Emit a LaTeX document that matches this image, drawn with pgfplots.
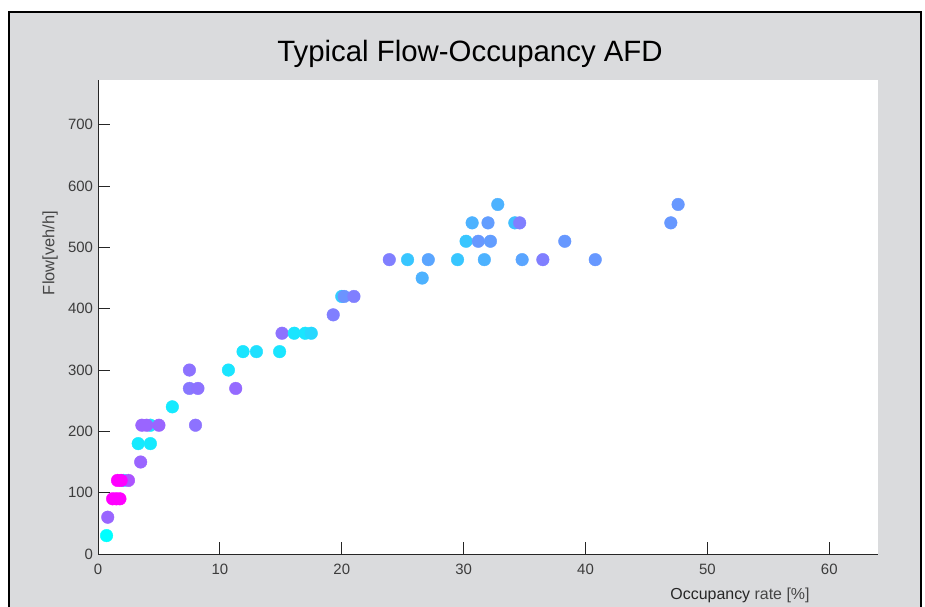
\documentclass[border=0pt]{standalone}
\usepackage{fontspec}
\setmainfont{Liberation Sans}
\usepackage{pgfplots}
\usepackage{pgfplotstable}
\pgfplotsset{compat=1.18}
\definecolor{bg}{RGB}{218,219,221}
\definecolor{axc}{RGB}{38,38,38}
\definecolor{tickc}{RGB}{60,60,60}
\definecolor{labc}{RGB}{70,70,70}
\pgfplotstableread{
x y c
0.7 30 0.0
0.8 60 0.6
2.1 120 0.05
2.5 120 0.67
1.6 120 1
1.9 120 1
1.2 90 1
1.5 90 1
1.8 90 1
3.5 150 0.6
3.3 180 0.08
4.3 180 0.08
4.3 210 0.08
3.6 210 0.6
4.0 210 0.6
5.0 210 0.6
8.0 210 0.55
6.1 240 0.08
7.5 270 0.53
8.2 270 0.55
11.3 270 0.58
7.5 300 0.55
10.7 300 0.1
11.9 330 0.1
13.0 330 0.12
14.9 330 0.1
15.1 360 0.55
16.1 360 0.1
17.0 360 0.1
17.5 360 0.15
19.3 390 0.5
20.0 420 0.2
20.2 420 0.42
21.0 420 0.5
26.6 450 0.3
23.9 480 0.5
25.4 480 0.22
27.1 480 0.35
29.5 480 0.22
31.7 480 0.3
34.8 480 0.35
36.5 480 0.5
40.8 480 0.4
30.2 510 0.22
31.2 510 0.4
32.2 510 0.38
38.3 510 0.4
30.7 540 0.3
32.0 540 0.38
34.2 540 0.25
34.6 540 0.5
47.0 540 0.4
32.8 570 0.3
47.6 570 0.4
}\datatab
\begin{document}
\begin{tikzpicture}[x=1bp,y=1bp]
\path[use as bounding box, clip] (0,0) rectangle (925,607);
\fill[white] (0,0) rectangle (925,607);
\draw[line width=1.5bp, fill=bg] (9,-10) rectangle (921,595);
\node[font=\fontsize{29.5}{34}\selectfont, text=black] at (470,553) {Typical Flow-Occupancy AFD};
\node[font=\fontsize{16.5}{19}\selectfont, text=labc, rotate=90] at (50,354) {Flow[veh/h]};
\node[font=\fontsize{16}{19}\selectfont, anchor=base] at (740,7.7) {\textcolor{axc}{Occupancy} \textcolor{labc}{rate [\%]}};
\begin{axis}[
  at={(98bp,53bp)}, anchor=south west, scale only axis,
  width=780bp, height=474bp,
  xmin=0, xmax=64, ymin=0, ymax=773,
  axis background/.style={fill=white},
  axis x line=bottom, axis y line=left,
  axis line style={-, axc, line width=0.8bp},
  tick align=inside, major tick length=12bp,
  tick style={axc, line width=0.8bp},
  xtick={0,10,...,60}, ytick={0,100,...,700},
  ticklabel style={font=\fontsize{15}{17}\selectfont, text=tickc},
  xticklabel style={yshift=-7bp},
  yticklabel style={xshift=-1.5bp},
  /pgf/number format/assume math mode=true,
  colormap={cool}{rgb255=(0,255,255) rgb255=(255,0,255)},
  point meta min=0, point meta max=1,
  clip=false,
]
\addplot[scatter, only marks, mark=*, mark size=6.3bp, scatter src=explicit,
  scatter/use mapped color={draw=mapped color, fill=mapped color}]
  table[x=x, y=y, meta=c] {\datatab};
\end{axis}
\end{tikzpicture}
\end{document}
